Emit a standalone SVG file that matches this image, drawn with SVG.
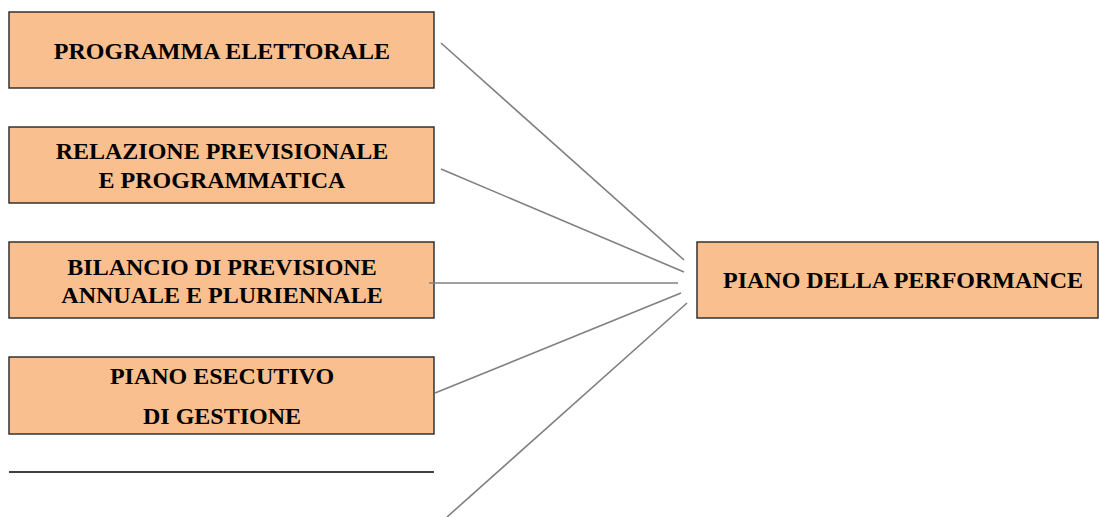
<svg xmlns="http://www.w3.org/2000/svg" width="1099" height="517" viewBox="0 0 1099 517">
<style>
.box{fill:#FABF8F;stroke:#262626;stroke-width:1.4}
.t{font-family:"Liberation Serif","Times New Roman",serif;font-weight:bold;font-size:24px;fill:#000;text-anchor:middle}
.c{stroke:#808080;stroke-width:1.6;fill:none}
</style>
<rect width="1099" height="517" fill="#fff"/>
<g id="n1"><rect class="box" x="9" y="12" width="425" height="76"/><text class="t" x="222" y="59">PROGRAMMA ELETTORALE</text></g>
<g id="n2"><rect class="box" x="9" y="127" width="425" height="76"/><text class="t" x="222" y="159">RELAZIONE PREVISIONALE</text><text class="t" x="222" y="188">E PROGRAMMATICA</text></g>
<g id="n3"><rect class="box" x="9" y="242" width="425" height="76"/><text class="t" x="222" y="275">BILANCIO DI PREVISIONE</text><text class="t" x="222" y="303">ANNUALE E PLURIENNALE</text></g>
<g id="n4"><rect class="box" x="9" y="357" width="425" height="77"/><text class="t" x="222" y="384">PIANO ESECUTIVO</text><text class="t" x="222" y="424">DI GESTIONE</text></g>
<g id="n5"><rect class="box" x="697" y="242" width="401" height="76"/><text class="t" x="903" y="288">PIANO DELLA PERFORMANCE</text></g>
<g id="sep"><line x1="9" y1="472" x2="434" y2="472" stroke="#000" stroke-width="1.5"/></g>
<g id="connectors">
<line class="c" x1="441" y1="43" x2="684" y2="260"/>
<line class="c" x1="441" y1="169" x2="684" y2="272"/>
<line class="c" x1="429" y1="283" x2="678" y2="283"/>
<line class="c" x1="435" y1="393" x2="681" y2="293"/>
<line class="c" x1="447" y1="517" x2="687" y2="303"/>
</g>
</svg>
